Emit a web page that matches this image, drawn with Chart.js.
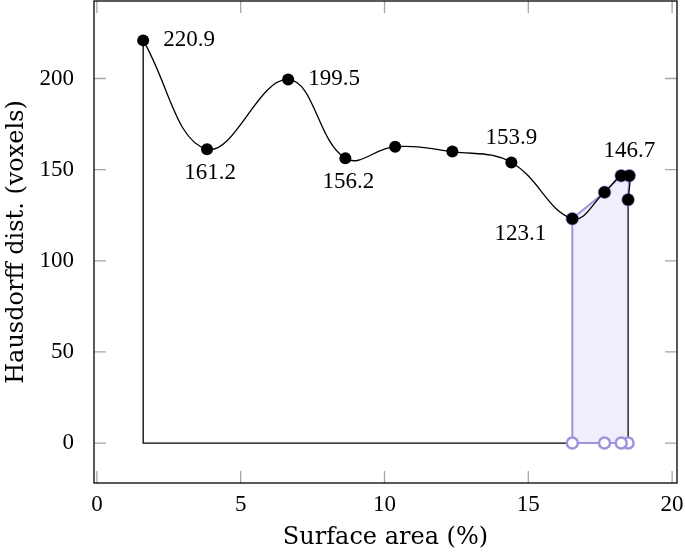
<!DOCTYPE html>
<html>
<head>
<meta charset="utf-8">
<script src="https://cdn.jsdelivr.net/npm/chart.js@4.4.1/dist/chart.umd.min.js"></script>
<style>
  html, body { margin: 0; background: #fff; }
  #wrap { width: 685px; height: 552px; }
</style>
</head>
<body>
<div id="wrap"><canvas id="c" width="685" height="552"></canvas></div>
<script>
// values
const xTicks = [0, 5, 10, 15, 20];
const yTicks = [0, 50, 100, 150, 200];
const surface = [1.61, 3.83, 6.65, 8.64, 10.37, 12.36, 14.41, 16.53, 17.65, 18.23, 18.51, 18.47];
const hausdorff = [220.9, 161.2, 199.5, 156.2, 162.6, 159.9, 153.9, 123.1, 137.6, 146.7, 146.7, 133.5];
const pointLabels = ['220.9', '161.2', '199.5', '156.2', '', '', '153.9', '123.1', '', '', '146.7', ''];
const labelSide = ['right', 'below', 'right', 'below', '', '', 'above', 'below left', '', '', 'above', ''];
const frontIdx = [7, 8, 9, 10, 11]; // highlighted tail of the curve
const baseIdx = [11, 9, 8, 7];     // its foot on y = 0, right to left

const NUM_FONT = '"Liberation Serif", serif';
const TITLE_FONT = '"DejaVu Serif", serif';
const PURPLE = '#9e93dd';
const PURPLE_FILL = 'rgba(158, 147, 221, 0.16)';

const curve = surface.map((x, i) => ({ x, y: hausdorff[i] }));
const last = curve[curve.length - 1];
const outline = [last, { x: last.x, y: 0 }, { x: curve[0].x, y: 0 }, curve[0]];
const region = [...baseIdx.map(i => ({ x: surface[i], y: 0 })), ...frontIdx.map(i => curve[i])];

const noPad = s => { s.paddingTop = 0; s.paddingBottom = 0; s.paddingLeft = 0; s.paddingRight = 0; };

const frame = {
  id: 'frame',
  afterDatasetsDraw(chart) {
    const { ctx, chartArea: a, scales: { x, y } } = chart;
    ctx.save();
    ctx.strokeStyle = '#a6a6a6';
    ctx.lineWidth = 1.3;
    ctx.beginPath();
    xTicks.forEach(v => {
      const px = x.getPixelForValue(v);
      ctx.moveTo(px, a.bottom); ctx.lineTo(px, a.bottom - 12);
      ctx.moveTo(px, a.top); ctx.lineTo(px, a.top + 12);
    });
    yTicks.forEach(v => {
      const py = y.getPixelForValue(v);
      ctx.moveTo(a.left, py); ctx.lineTo(a.left + 12, py);
      ctx.moveTo(a.right, py); ctx.lineTo(a.right - 12, py);
    });
    ctx.stroke();
    ctx.strokeStyle = '#000';
    ctx.lineWidth = 1.3;
    ctx.strokeRect(a.left, a.top, a.right - a.left, a.bottom - a.top);

    ctx.fillStyle = '#000';
    ctx.font = '23px ' + NUM_FONT;
    ctx.textBaseline = 'middle';
    curve.forEach((p, i) => {
      if (!pointLabels[i]) return;
      const px = x.getPixelForValue(p.x), py = y.getPixelForValue(p.y);
      const side = labelSide[i];
      if (side === 'right') { ctx.textAlign = 'left'; ctx.fillText(pointLabels[i], px + 20, py); }
      else if (side === 'above') { ctx.textAlign = 'center'; ctx.fillText(pointLabels[i], px, py - 25); }
      else if (side === 'below') { ctx.textAlign = 'center'; ctx.fillText(pointLabels[i], px + 3, py + 24); }
      else { ctx.textAlign = 'right'; ctx.fillText(pointLabels[i], px - 26, py + 15); }
    });
    ctx.restore();
  }
};

new Chart(document.getElementById('c'), {
  type: 'scatter',
  data: {
    datasets: [
      {
        data: curve, showLine: true, tension: 0.4,
        borderColor: '#000', borderWidth: 1.3,
        pointRadius: 6, pointBackgroundColor: '#000', pointBorderWidth: 0,
        order: 0,
      },
      {
        data: region, showLine: true, tension: 0, fill: 'shape',
        backgroundColor: PURPLE_FILL, borderColor: PURPLE, borderWidth: 2,
        pointRadius: 5.5, pointBorderWidth: 2.5, pointBorderColor: PURPLE, pointBackgroundColor: '#fff',
        order: 1,
      },
      {
        data: outline, showLine: true, tension: 0,
        borderColor: '#000', borderWidth: 1.3, pointRadius: 0,
        order: 2,
      },
    ],
  },
  options: {
    responsive: false,
    animation: false,
    layout: { autoPadding: false, padding: { top: 1, right: 8, left: 0, bottom: 0 } },
    plugins: { legend: { display: false }, tooltip: { enabled: false } },
    scales: {
      x: {
        type: 'linear', min: -0.1, max: 20.17,
        afterBuildTicks: s => { s.ticks = xTicks.map(v => ({ value: v })); },
        afterFit: s => { s.height = 69; noPad(s); },
        grid: { display: false }, border: { display: false },
        ticks: { padding: 0, color: '#000', font: { family: NUM_FONT, size: 23 }, maxRotation: 0, autoSkip: false },
        title: { display: true, text: 'Surface area (%)', color: '#000', font: { family: TITLE_FONT, size: 24 }, padding: { top: 0, bottom: 0 } },
      },
      y: {
        type: 'linear', min: -21.9, max: 242.5,
        afterBuildTicks: s => { s.ticks = yTicks.map(v => ({ value: v })); },
        afterFit: s => { s.width = 94; noPad(s); },
        grid: { display: false }, border: { display: false },
        ticks: { padding: 12, color: '#000', font: { family: NUM_FONT, size: 23 }, autoSkip: false },
        title: { display: true, text: 'Hausdorff dist. (voxels)', color: '#000', font: { family: TITLE_FONT, size: 24 }, padding: { top: 2, bottom: 0 } },
      },
    },
  },
  plugins: [frame],
});
</script>
</body>
</html>
